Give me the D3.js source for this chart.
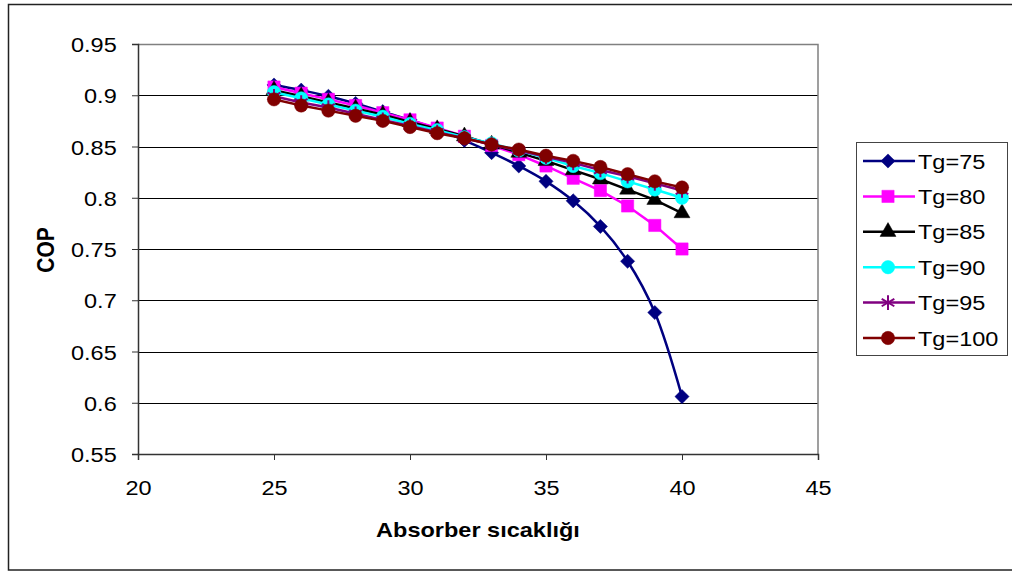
<!DOCTYPE html>
<html>
<head>
<meta charset="utf-8">
<script src="https://cdn.jsdelivr.net/npm/d3@7"></script>
<style>
  body { margin: 0; background: #fff; }
  svg { display: block; font-family: "Liberation Sans", Arial, sans-serif; }
</style>
</head>
<body>
<svg id="chart" width="1012" height="573"></svg>
<script>
const xValues = [25, 26, 27, 28, 29, 30, 31, 32, 33, 34, 35, 36, 37, 38, 39, 40];
const seriesNames = ["Tg=75", "Tg=80", "Tg=85", "Tg=90", "Tg=95", "Tg=100"];
const tg75 = [0.910, 0.905, 0.899, 0.892, 0.884, 0.876, 0.867, 0.856, 0.844, 0.831, 0.816, 0.797, 0.772, 0.738, 0.688, 0.606];
const tg80 = [0.908, 0.902, 0.896, 0.890, 0.883, 0.876, 0.868, 0.860, 0.851, 0.842, 0.831, 0.819, 0.807, 0.792, 0.773, 0.750];
const tg85 = [0.905, 0.899, 0.893, 0.887, 0.881, 0.874, 0.867, 0.860, 0.852, 0.844, 0.836, 0.827, 0.818, 0.808, 0.798, 0.785];
const tg90 = [0.903, 0.897, 0.891, 0.885, 0.879, 0.872, 0.866, 0.859, 0.853, 0.846, 0.839, 0.831, 0.824, 0.816, 0.808, 0.800];
const tg95 = [0.899, 0.893, 0.888, 0.882, 0.876, 0.870, 0.864, 0.858, 0.852, 0.846, 0.840, 0.834, 0.827, 0.821, 0.814, 0.807];
const tg100 = [0.896, 0.890, 0.885, 0.880, 0.875, 0.869, 0.863, 0.858, 0.852, 0.847, 0.841, 0.836, 0.830, 0.823, 0.816, 0.810];
const xTicks = [20, 25, 30, 35, 40, 45];
const yTicks = [0.55, 0.6, 0.65, 0.7, 0.75, 0.8, 0.85, 0.9, 0.95];

const allSeries = [tg75, tg80, tg85, tg90, tg95, tg100];
const colors = ["#000080", "#ff00ff", "#000000", "#00ffff", "#800080", "#800000"];
// diamond is drawn as a square turned 45 degrees, like the spreadsheet marker
const shapes = [d3.symbolSquare, d3.symbolSquare, d3.symbolTriangle, d3.symbolCircle, d3.symbolAsterisk, d3.symbolCircle];
const symSizes = [100, 150, 110, 140, 150, 140];
const symRotate = [45, 0, 0, 0, 0, 0];

const svg = d3.select("#chart");
const sx = 1.12; // the original text is a bit stretched horizontally

// outer frame
svg.append("rect")
  .attr("x", 8.5).attr("y", 4.5)
  .attr("width", 1010).attr("height", 565.5)
  .attr("fill", "none").attr("stroke", "#222").attr("stroke-width", 1.5);

const x = d3.scaleLinear().domain([20, 45]).range([138, 818]);
const y = d3.scaleLinear().domain([0.55, 0.95]).range([454, 44]);

// gridlines
svg.append("g").selectAll("line")
  .data(yTicks.filter(t => t < 0.94))
  .join("line")
  .attr("x1", x(20)).attr("x2", x(45))
  .attr("y1", d => Math.round(y(d)) + 0.5).attr("y2", d => Math.round(y(d)) + 0.5)
  .attr("stroke", "#000").attr("stroke-width", 1);

// top and right border of plot area
svg.append("path")
  .attr("d", `M${x(20)},${y(0.95) + 0.5}H${x(45)}V${y(0.55)}`)
  .attr("fill", "none").attr("stroke", "#808080").attr("stroke-width", 1.5);

const yAxis = svg.append("g")
  .attr("transform", `translate(${x(20)},0)`)
  .call(d3.axisLeft(y).tickValues(yTicks).tickFormat(d => String(+d.toFixed(2))).tickSizeOuter(0).tickSize(6).tickPadding(13));
const xAxis = svg.append("g")
  .attr("transform", `translate(0,${y(0.55)})`)
  .call(d3.axisBottom(x).tickValues(xTicks).tickSizeOuter(0).tickSize(6).tickPadding(20));

[yAxis, xAxis].forEach(ax => {
  ax.select(".domain").attr("stroke", "#333").attr("stroke-width", 1.5);
  ax.selectAll(".tick line").attr("stroke", "#333");
  ax.selectAll(".tick text")
    .attr("fill", "#000")
    .style("font-size", "21px")
    .attr("transform", `scale(${sx},1)`);
});
yAxis.selectAll(".tick text").attr("dy", "0.36em");
xAxis.selectAll(".tick text").attr("dy", "0.72em");

// axis titles
svg.append("text")
  .attr("transform", `translate(478,537) scale(${sx},1)`)
  .attr("text-anchor", "middle")
  .style("font-size", "21px").style("font-weight", "bold")
  .text("Absorber sıcaklığı");

svg.append("text")
  .attr("transform", `translate(54,250) rotate(-90) scale(1,${sx})`)
  .attr("text-anchor", "middle")
  .style("font-size", "21px").style("font-weight", "bold")
  .text("COP");

function marker(sel, i) {
  const isStar = shapes[i] === d3.symbolAsterisk;
  sel.attr("d", d3.symbol().type(shapes[i]).size(symSizes[i])())
    .attr("fill", isStar ? "none" : colors[i])
    .attr("stroke", colors[i])
    .attr("stroke-width", isStar ? 2 : 0.5);
}

// series
const plot = svg.append("g");
allSeries.forEach((vals, i) => {
  const pts = xValues.map((xv, j) => [xv, vals[j]]);
  const line = d3.line()
    .x(d => x(d[0])).y(d => y(d[1]))
    .curve(i === 0 ? d3.curveCatmullRom.alpha(0.5) : d3.curveLinear);
  const g = plot.append("g");
  g.append("path")
    .attr("d", line(pts))
    .attr("fill", "none")
    .attr("stroke", colors[i])
    .attr("stroke-width", 2.5);
  g.selectAll("path.m")
    .data(pts)
    .join("path")
    .attr("class", "m")
    .attr("transform", d => `translate(${x(d[0])},${y(d[1])}) rotate(${symRotate[i]})`)
    .call(marker, i);
});

// legend
const legend = svg.append("g");
legend.append("rect")
  .attr("x", 856.5).attr("y", 142.5)
  .attr("width", 151).attr("height", 213)
  .attr("fill", "#fff").attr("stroke", "#444").attr("stroke-width", 1);

seriesNames.forEach((name, i) => {
  const ry = 161 + i * 35.4;
  const row = legend.append("g");
  row.append("line")
    .attr("x1", 863).attr("x2", 915)
    .attr("y1", ry).attr("y2", ry)
    .attr("stroke", colors[i]).attr("stroke-width", 2.5);
  row.append("path")
    .attr("transform", `translate(888,${ry}) rotate(${symRotate[i]})`)
    .call(marker, i);
  row.append("text")
    .attr("transform", `translate(918,${ry}) scale(${sx},1)`)
    .attr("dy", "0.36em")
    .style("font-size", "21px")
    .text(name);
});
</script>
</body>
</html>
